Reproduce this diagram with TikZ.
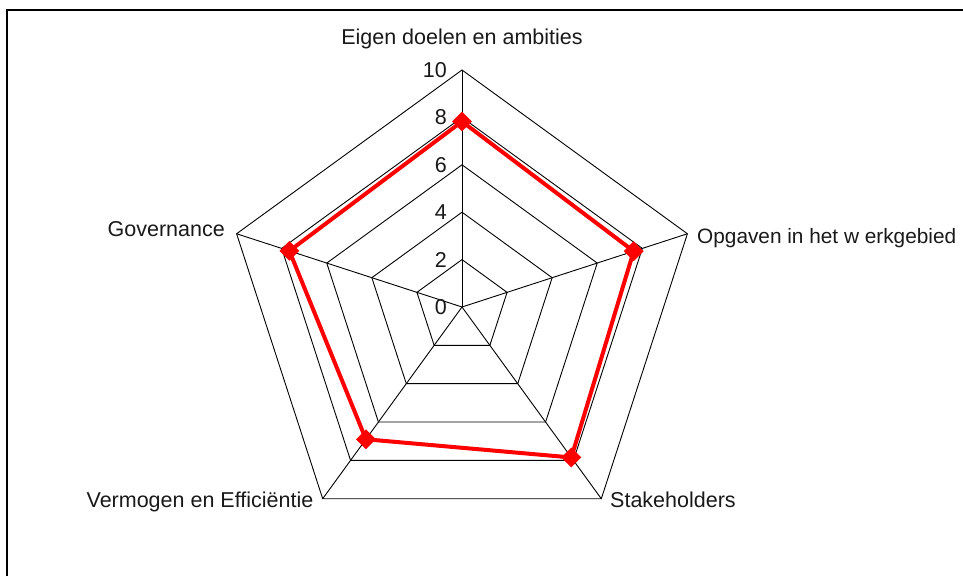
\documentclass[tikz,border=0pt]{standalone}
\usepackage{fontspec}
\setmainfont{Liberation Sans}
\usetikzlibrary{shapes.geometric}
\tikzset{
  gridline/.style={black, line width=0.9pt, line join=miter},
  dataline/.style={red, line width=4pt, line join=round},
  marker/.style={diamond, fill=red, draw=none, inner sep=0pt, minimum width=20pt, minimum height=20pt},
  lbl/.style={font=\fontsize{21.5}{26}\selectfont, inner sep=0pt, text=black!90},
  frameline/.style={black, line width=1.5pt}
}
\begin{document}
\begin{tikzpicture}[x=1pt, y=1pt]
\useasboundingbox (0,0) rectangle (963,576);
\draw[frameline] (7,0) -- (7,566) -- (970,566);
\begin{scope}[shift={(462,269)}]
  \coordinate (C) at (0,0);
  \foreach \i/\a in {1/90,2/18,3/-54,4/-126,5/162} {
    \coordinate (v\i) at (\a:237);
  }
  % grid rings
  \foreach \r in {47.4,94.8,142.2,189.6,237} {
    \draw[gridline] (90:\r) -- (18:\r) -- (-54:\r) -- (-126:\r) -- (162:\r) -- cycle;
  }
  % spokes
  \foreach \i in {1,...,5} {
    \draw[gridline] (C) -- (v\i);
  }
  % scale labels
  \foreach \v/\r in {0/0,2/47.4,4/94.8,6/142.2,8/189.6,10/237} {
    \node[lbl, anchor=east] (s\v) at (-15,\r) {\v};
  }
  % data points
  \coordinate (p1) at (90:185.5);
  \coordinate (p2) at (18:180.5);
  \coordinate (p3) at (-54:186);
  \coordinate (p4) at (-126:163.5);
  \coordinate (p5) at (162:181.5);
  \draw[dataline] (p1) -- (p2) -- (p3) -- (p4) -- (p5) -- cycle;
  \foreach \i in {1,...,5} {
    \node[marker] (m\i) at (p\i) {};
  }
\end{scope}
% category labels
\node[lbl, anchor=base] (c1) at (462,531) {Eigen doelen en ambities};
\node[lbl, anchor=base west, font=\fontsize{20.8}{25}\selectfont] (c2) at (697,332) {Opgaven in het w erkgebied};
\node[lbl, anchor=base west] (c3) at (610,68.5) {Stakeholders};
\node[lbl, anchor=base east] (c4) at (313.5,68.5) {Vermogen en Efficiëntie};
\node[lbl, anchor=base east] (c5) at (225,339) {Governance};
\end{tikzpicture}
\end{document}
